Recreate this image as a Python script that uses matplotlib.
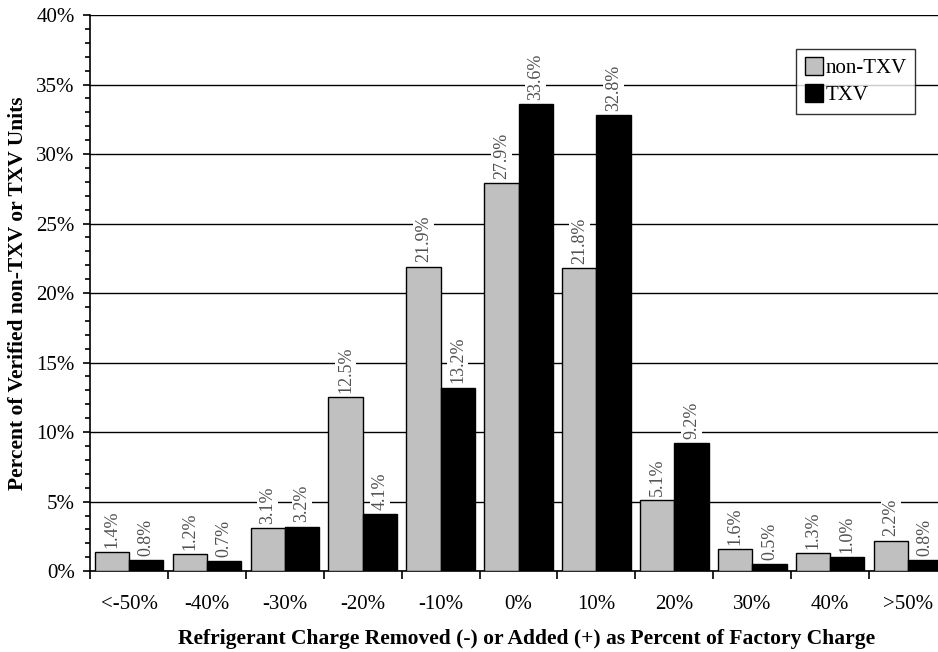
import numpy as np
import matplotlib
matplotlib.use("Agg")
import matplotlib.pyplot as plt
from matplotlib.ticker import MultipleLocator, FuncFormatter

plt.rcParams['font.family'] = ['Liberation Serif', 'DejaVu Serif']

# Data
categories = ['<-50%', '-40%', '-30%', '-20%', '-10%', '0%', '10%', '20%', '30%', '40%', '>50%']
non_txv = [1.4, 1.2, 3.1, 12.5, 21.9, 27.9, 21.8, 5.1, 1.6, 1.3, 2.2]
txv = [0.8, 0.7, 3.2, 4.1, 13.2, 33.6, 32.8, 9.2, 0.5, 1.0, 0.8]

fig = plt.figure(figsize=(9.38, 6.52), dpi=100)
ax = fig.add_axes([0.096, 0.124, 1.0096 - 0.096, 0.977 - 0.124])

x = np.arange(len(categories))
w = 0.44
b1 = ax.bar(x - w / 2, non_txv, w, color='#c0c0c0', edgecolor='black', linewidth=1, label='non-TXV', zorder=3)
b2 = ax.bar(x + w / 2, txv, w, color='black', edgecolor='black', linewidth=1, label='TXV', zorder=3)

# bar labels, vertical with white background
for bars, vals in [(b1, non_txv), (b2, txv)]:
    for rect, v in zip(bars, vals):
        ax.annotate(f"{v:.1f}%", (rect.get_x() + rect.get_width() / 2, v),
                    xytext=(0, 3), textcoords='offset points', rotation=90,
                    ha='center', va='bottom', fontsize=13, color='#505050',
                    bbox=dict(boxstyle='square,pad=0.1', fc='white', ec='none'), zorder=4)

ax.set_xlim(-0.5, len(categories) - 0.5)
ax.set_ylim(0, 40)
ax.yaxis.set_major_locator(MultipleLocator(5))
ax.yaxis.set_minor_locator(MultipleLocator(1))
ax.yaxis.set_major_formatter(FuncFormatter(lambda v, p: f"{v:.0f}%"))
ax.grid(axis='y', which='major', color='black', linewidth=1, zorder=0)

ax.set_xticks(x)
ax.set_xticklabels(categories)
ax.set_xticks(np.arange(-0.5, len(categories), 1), minor=True)
ax.tick_params(axis='x', which='major', length=0, pad=17, labelsize=15)
ax.tick_params(axis='x', which='minor', length=5.5, width=1.2, direction='out')
ax.tick_params(axis='y', which='major', length=5, width=1.2, labelsize=15, pad=6)
ax.tick_params(axis='y', which='minor', length=3.5, width=1.2)

for s in ['top', 'right']:
    ax.spines[s].set_visible(False)
ax.spines['left'].set_linewidth(1.2)
ax.spines['bottom'].set_linewidth(1.2)

ax.set_xlabel("Refrigerant Charge Removed (-) or Added (+) as Percent of Factory Charge",
              fontsize=15.5, fontweight='bold')
ax.set_ylabel("Percent of Verified non-TXV or TXV Units", fontsize=15.5, fontweight='bold')
ax.yaxis.set_label_coords(-0.072, 0.5)
ax.xaxis.set_label_coords(0.509, -0.104)

leg = ax.legend(loc='upper right', bbox_to_anchor=(0.9627, 0.9388), fontsize=15, frameon=True,
                fancybox=False, edgecolor='black', handlelength=0.9, handleheight=0.9,
                handletextpad=0.1, borderpad=0.4, labelspacing=0.3, borderaxespad=0)
leg.get_frame().set_linewidth(1)
leg.set_zorder(5)

plt.savefig('out.png', dpi=100)
